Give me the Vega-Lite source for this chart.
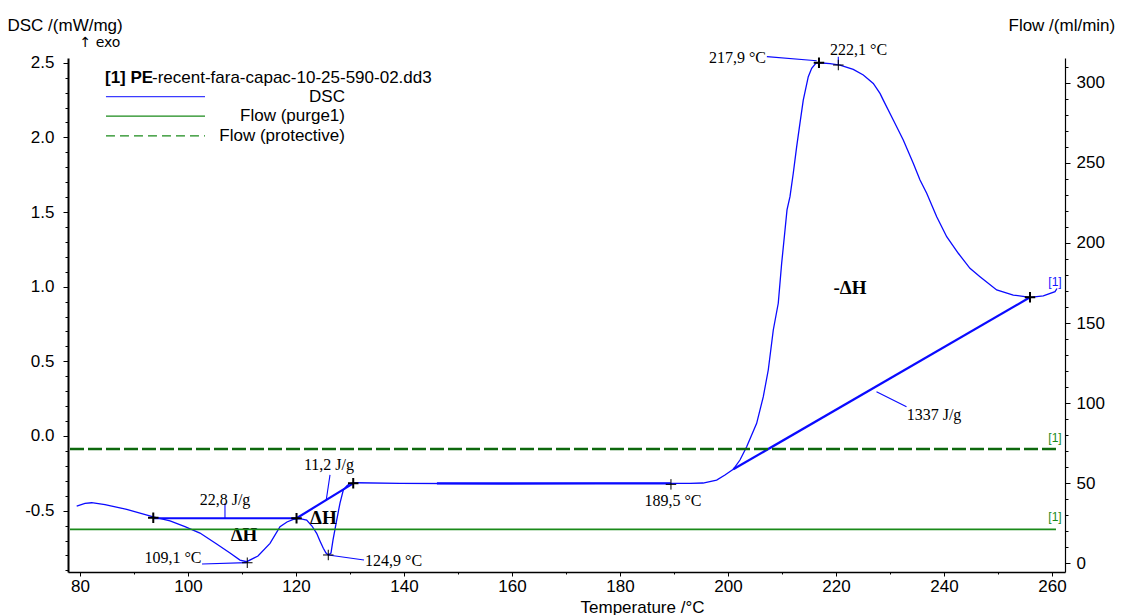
{
  "$schema": "https://vega.github.io/schema/vega-lite/v6.json",
  "width": 997,
  "height": 514,
  "autosize": "none",
  "padding": {"left": 68, "top": 58, "right": 59, "bottom": 43},
  "background": "white",
  "config": {
    "view": {"stroke": null},
    "axis": {
      "grid": false,
      "labelFont": "Liberation Sans",
      "titleFont": "Liberation Sans",
      "labelFontSize": 17,
      "titleFontSize": 17,
      "titleFontWeight": "normal",
      "labelColor": "black",
      "titleColor": "black",
      "domainColor": "black",
      "tickColor": "black",
      "tickWidth": 1
    }
  },
  "datasets": {
    "dsc": [
      {"T": 79.39, "v": -0.469}, {"T": 80.93, "v": -0.452}, {"T": 82.17, "v": -0.447}, {"T": 84.63, "v": -0.459},
      {"T": 88.65, "v": -0.491}, {"T": 93.57, "v": -0.541}, {"T": 96.67, "v": -0.569}, {"T": 99.44, "v": -0.607},
      {"T": 102.22, "v": -0.65}, {"T": 105.31, "v": -0.723}, {"T": 107.78, "v": -0.784}, {"T": 109.63, "v": -0.831},
      {"T": 110.87, "v": -0.842}, {"T": 112.96, "v": -0.804}, {"T": 115.19, "v": -0.719}, {"T": 117.04, "v": -0.607},
      {"T": 118.33, "v": -0.576}, {"T": 119.5, "v": -0.558}, {"T": 120.74, "v": -0.553}, {"T": 121.98, "v": -0.563},
      {"T": 122.96, "v": -0.603}, {"T": 123.83, "v": -0.652}, {"T": 124.44, "v": -0.703}, {"T": 125.06, "v": -0.752},
      {"T": 125.56, "v": -0.784}, {"T": 125.98, "v": -0.797}, {"T": 126.48, "v": -0.784}, {"T": 126.85, "v": -0.697},
      {"T": 127.54, "v": -0.563}, {"T": 128.15, "v": -0.449}, {"T": 128.76, "v": -0.362}, {"T": 129.39, "v": -0.335},
      {"T": 130.0, "v": -0.317}, {"T": 131.1, "v": -0.313}, {"T": 139.26, "v": -0.318}, {"T": 157.78, "v": -0.32},
      {"T": 176.3, "v": -0.318}, {"T": 192.96, "v": -0.318}, {"T": 195.37, "v": -0.315}, {"T": 197.9, "v": -0.295},
      {"T": 199.44, "v": -0.261}, {"T": 200.98, "v": -0.223}, {"T": 202.22, "v": -0.161}, {"T": 203.46, "v": -0.072},
      {"T": 205.31, "v": 0.085}, {"T": 206.54, "v": 0.263}, {"T": 207.46, "v": 0.442}, {"T": 208.39, "v": 0.71},
      {"T": 209.31, "v": 0.889}, {"T": 209.94, "v": 1.157}, {"T": 210.56, "v": 1.38}, {"T": 210.93, "v": 1.514},
      {"T": 211.48, "v": 1.603}, {"T": 212.09, "v": 1.76}, {"T": 212.72, "v": 1.938}, {"T": 213.33, "v": 2.096},
      {"T": 213.94, "v": 2.25}, {"T": 214.87, "v": 2.407}, {"T": 215.5, "v": 2.463}, {"T": 216.3, "v": 2.498},
      {"T": 216.85, "v": 2.5}, {"T": 218.89, "v": 2.495}, {"T": 220.74, "v": 2.485}, {"T": 223.2, "v": 2.456},
      {"T": 225.06, "v": 2.418}, {"T": 226.91, "v": 2.362}, {"T": 228.15, "v": 2.295}, {"T": 228.76, "v": 2.25},
      {"T": 230.61, "v": 2.117}, {"T": 232.46, "v": 1.983}, {"T": 234.31, "v": 1.827}, {"T": 235.56, "v": 1.715},
      {"T": 236.8, "v": 1.626}, {"T": 238.65, "v": 1.469}, {"T": 240.5, "v": 1.335}, {"T": 242.65, "v": 1.224},
      {"T": 244.81, "v": 1.123}, {"T": 246.67, "v": 1.067}, {"T": 249.76, "v": 0.978}, {"T": 252.83, "v": 0.944},
      {"T": 255.93, "v": 0.929}, {"T": 258.39, "v": 0.938}, {"T": 260.56, "v": 0.967}, {"T": 260.93, "v": 0.988}
    ],
    "thick": [
      {"T": 93.57, "v": -0.551, "T2": 120.1, "v2": -0.551},
      {"T": 120.1, "v": -0.551, "T2": 130.6, "v2": -0.317},
      {"T": 146.1, "v": -0.317, "T2": 189.4, "v2": -0.317},
      {"T": 200.98, "v": -0.223, "T2": 255.93, "v2": 0.929}
    ],
    "leaders": [
      {"T": 106.85, "v": -0.451, "T2": 106.85, "v2": -0.551},
      {"T": 126.3, "v": -0.26, "T2": 125.6, "v2": -0.43},
      {"T": 102.6, "v": -0.857, "T2": 110.87, "v2": -0.848},
      {"T": 125.98, "v": -0.797, "T2": 132.6, "v2": -0.831},
      {"T": 207.2, "v": 2.541, "T2": 216.43, "v2": 2.514},
      {"T": 220.43, "v": 2.541, "T2": 220.43, "v2": 2.485},
      {"T": 227.5, "v": 0.297, "T2": 233.06, "v2": 0.196}
    ],
    "boldMarks": [
      {"T": 93.57, "v": -0.548}, {"T": 120.1, "v": -0.551}, {"T": 130.6, "v": -0.317},
      {"T": 216.85, "v": 2.5}, {"T": 255.93, "v": 0.929}
    ],
    "thinMarks": [
      {"T": 110.98, "v": -0.849}, {"T": 125.98, "v": -0.797}, {"T": 189.44, "v": -0.324}, {"T": 220.43, "v": 2.485}
    ],
    "lblCenter": [
      {"T": 106.85, "v": -0.429, "text": "22,8 J/g"},
      {"T": 126.1, "v": -0.194, "text": "11,2 J/g"},
      {"T": 189.81, "v": -0.433, "text": "189,5 °C"}
    ],
    "lblRight": [
      {"T": 102.5, "v": -0.815, "text": "109,1 °C"},
      {"T": 207.04, "v": 2.532, "text": "217,9 °C"}
    ],
    "lblLeft": [
      {"T": 132.8, "v": -0.835, "text": "124,9 °C"},
      {"T": 218.89, "v": 2.585, "text": "222,1 °C"},
      {"T": 233.09, "v": 0.141, "text": "1337 J/g"}
    ],
    "dH": [
      {"T": 110.37, "v": -0.663, "text": "ΔH"},
      {"T": 125.06, "v": -0.551, "text": "ΔH"},
      {"T": 222.6, "v": 0.991, "text": "-ΔH"}
    ],
    "legTitleBold": [{"T": 84.63, "v": 2.4, "text": "[1] PE"}],
    "legTitleRest": [{"T": 93.33, "v": 2.4, "text": "-recent-fara-capac-10-25-590-02.dd3"}],
    "legLabels": [
      {"T": 129.07, "v": 2.273, "text": "DSC"},
      {"T": 129.07, "v": 2.143, "text": "Flow (purge1)"},
      {"T": 129.07, "v": 2.011, "text": "Flow (protective)"}
    ],
    "legBlue": [{"T": 84.81, "T2": 103.15, "v": 2.273, "v2": 2.273}],
    "legGreen": [{"T": 84.81, "T2": 103.15, "v": 2.143, "v2": 2.143}],
    "legDash": [{"T": 84.81, "T2": 103.15, "v": 2.011, "v2": 2.011}],
    "tagBlue": [{"T": 260.56, "v": 1.031, "text": "[1]"}],
    "tagGreen": [{"T": 260.56, "v": -0.013, "text": "[1]"}, {"T": 260.56, "v": -0.543, "text": "[1]"}],
    "exo": [{"T": 79.9, "v": 2.632, "text": "↑ exo"}],
    "purge": [{"T": 78.15, "flow": 21.06}, {"T": 260.74, "flow": 21.06}],
    "protective": [{"T": 78.15, "flow": 71.25}, {"T": 260.74, "flow": 71.25}]
  },
  "layer": [
    {
      "encoding": {
        "x": {
          "field": "T", "type": "quantitative",
          "scale": {"domain": [77.78, 262.41], "nice": false, "zero": false},
          "axis": {
            "values": [80, 90, 100, 110, 120, 130, 140, 150, 160, 170, 180, 190, 200, 210, 220, 230, 240, 250, 260],
            "labelExpr": "datum.value % 20 === 0 ? datum.label : ''",
            "tickSize": {"condition": {"test": "datum.value % 20 !== 0", "value": 2}, "value": 4},
            "labelPadding": 2,
            "labelOverlap": false,
            "labelFlush": false,
            "domainWidth": 1.5,
            "title": "Temperature /°C",
            "titleX": 574,
            "titleY": 35,
            "titleAlign": "center",
            "titleBaseline": "middle"
          }
        },
        "y": {
          "field": "v", "type": "quantitative",
          "scale": {"domain": [-0.911, 2.532], "nice": false, "zero": false},
          "axis": {
            "orient": "left",
            "values": [-0.9, -0.8, -0.7, -0.6, -0.5, -0.4, -0.3, -0.2, -0.1, 0, 0.1, 0.2, 0.3, 0.4, 0.5, 0.6, 0.7, 0.8, 0.9, 1.0, 1.1, 1.2, 1.3, 1.4, 1.5, 1.6, 1.7, 1.8, 1.9, 2.0, 2.1, 2.2, 2.3, 2.4, 2.5],
            "labelExpr": "abs(datum.value*2 - round(datum.value*2)) < 0.001 ? (datum.value < -0.001 ? '-' : '') + format(abs(datum.value), '.1f') : ''",
            "tickSize": {"condition": {"test": "abs(datum.value*2 - round(datum.value*2)) > 0.001", "value": 3}, "value": 5},
            "labelPadding": 9,
            "labelOverlap": false,
            "labelFlush": false,
            "domainWidth": 2,
            "title": "DSC /(mW/mg)",
            "titleAngle": 0,
            "titleAlign": "left",
            "titleBaseline": "middle",
            "titleX": -61,
            "titleY": -33
          }
        }
      },
      "layer": [
        {"data": {"name": "dsc"}, "mark": {"type": "line", "color": "#0a0aff", "strokeWidth": 1.3}},
        {"data": {"name": "thick"}, "mark": {"type": "rule", "color": "#0a0aff", "strokeWidth": 2.2}, "encoding": {"x2": {"field": "T2"}, "y2": {"field": "v2"}}},
        {"data": {"name": "leaders"}, "mark": {"type": "rule", "color": "#0a0aff", "strokeWidth": 1.1}, "encoding": {"x2": {"field": "T2"}, "y2": {"field": "v2"}}},
        {"data": {"name": "legBlue"}, "mark": {"type": "rule", "color": "#3c3cff", "strokeWidth": 1.2}, "encoding": {"x2": {"field": "T2"}, "y2": {"field": "v2"}}},
        {"data": {"name": "legGreen"}, "mark": {"type": "rule", "color": "#1a8a1a", "strokeWidth": 1.2}, "encoding": {"x2": {"field": "T2"}, "y2": {"field": "v2"}}},
        {"data": {"name": "legDash"}, "mark": {"type": "rule", "color": "#1a8a1a", "strokeWidth": 1.2, "strokeDash": [9, 5]}, "encoding": {"x2": {"field": "T2"}, "y2": {"field": "v2"}}},
        {"data": {"name": "boldMarks"}, "mark": {"type": "point", "shape": "M-1,0H1M0,-1V1", "filled": false, "stroke": "black", "strokeWidth": 2, "size": 110, "opacity": 1}},
        {"data": {"name": "thinMarks"}, "mark": {"type": "point", "shape": "M-1,0H1M0,-1V1", "filled": false, "stroke": "black", "strokeWidth": 1, "size": 110, "opacity": 1}},
        {"data": {"name": "lblCenter"}, "mark": {"type": "text", "font": "Liberation Serif", "fontSize": 16, "align": "center", "baseline": "middle", "color": "black"}, "encoding": {"text": {"field": "text"}}},
        {"data": {"name": "lblRight"}, "mark": {"type": "text", "font": "Liberation Serif", "fontSize": 16, "align": "right", "baseline": "middle", "color": "black"}, "encoding": {"text": {"field": "text"}}},
        {"data": {"name": "lblLeft"}, "mark": {"type": "text", "font": "Liberation Serif", "fontSize": 16, "align": "left", "baseline": "middle", "color": "black"}, "encoding": {"text": {"field": "text"}}},
        {"data": {"name": "dH"}, "mark": {"type": "text", "font": "Liberation Serif", "fontSize": 19, "fontWeight": "bold", "align": "center", "baseline": "middle", "color": "black"}, "encoding": {"text": {"field": "text"}}},
        {"data": {"name": "legTitleBold"}, "mark": {"type": "text", "font": "Liberation Sans", "fontSize": 17, "fontWeight": "bold", "align": "left", "baseline": "middle", "color": "black"}, "encoding": {"text": {"field": "text"}}},
        {"data": {"name": "legTitleRest"}, "mark": {"type": "text", "font": "Liberation Sans", "fontSize": 17, "align": "left", "baseline": "middle", "color": "black"}, "encoding": {"text": {"field": "text"}}},
        {"data": {"name": "legLabels"}, "mark": {"type": "text", "font": "Liberation Sans", "fontSize": 17, "align": "right", "baseline": "middle", "color": "black"}, "encoding": {"text": {"field": "text"}}},
        {"data": {"name": "tagBlue"}, "mark": {"type": "text", "font": "Liberation Sans", "fontSize": 12, "align": "center", "baseline": "middle", "color": "#1414ff"}, "encoding": {"text": {"field": "text"}}},
        {"data": {"name": "tagGreen"}, "mark": {"type": "text", "font": "Liberation Sans", "fontSize": 12, "align": "center", "baseline": "middle", "color": "#1a8a1a"}, "encoding": {"text": {"field": "text"}}},
        {"data": {"name": "exo"}, "mark": {"type": "text", "font": "DejaVu Sans", "fontSize": 14, "align": "left", "baseline": "middle", "color": "black"}, "encoding": {"text": {"field": "text"}}}
      ]
    },
    {
      "encoding": {
        "x": {
          "field": "T", "type": "quantitative",
          "scale": {"domain": [77.78, 262.41], "nice": false, "zero": false},
          "axis": {
            "values": [80, 90, 100, 110, 120, 130, 140, 150, 160, 170, 180, 190, 200, 210, 220, 230, 240, 250, 260],
            "labelExpr": "datum.value % 20 === 0 ? datum.label : ''",
            "tickSize": {"condition": {"test": "datum.value % 20 !== 0", "value": 2}, "value": 4},
            "labelPadding": 2,
            "labelOverlap": false,
            "labelFlush": false,
            "domainWidth": 1.5,
            "title": "Temperature /°C",
            "titleX": 574,
            "titleY": 35,
            "titleAlign": "center",
            "titleBaseline": "middle"
          }
        },
        "y": {
          "field": "flow", "type": "quantitative",
          "scale": {"domain": [-5.6, 315.6], "nice": false, "zero": false},
          "axis": {
            "orient": "right",
            "values": [0, 10, 20, 30, 40, 50, 60, 70, 80, 90, 100, 110, 120, 130, 140, 150, 160, 170, 180, 190, 200, 210, 220, 230, 240, 250, 260, 270, 280, 290, 300, 310],
            "labelExpr": "datum.value % 50 === 0 ? datum.label : ''",
            "tickSize": {"condition": {"test": "datum.value % 50 !== 0", "value": 3}, "value": 5},
            "labelPadding": 6,
            "labelOverlap": false,
            "labelFlush": false,
            "domainWidth": 1.2,
            "title": "Flow /(ml/min)",
            "titleAngle": 0,
            "titleAlign": "left",
            "titleBaseline": "middle",
            "titleX": -57,
            "titleY": -33
          }
        }
      },
      "layer": [
        {"data": {"name": "purge"}, "mark": {"type": "line", "color": "#1a8a1a", "strokeWidth": 1.6}},
        {"data": {"name": "protective"}, "mark": {"type": "line", "color": "#0d680d", "strokeWidth": 2.4, "strokeDash": [14, 4]}}
      ]
    }
  ],
  "resolve": {"scale": {"y": "independent"}}
}
